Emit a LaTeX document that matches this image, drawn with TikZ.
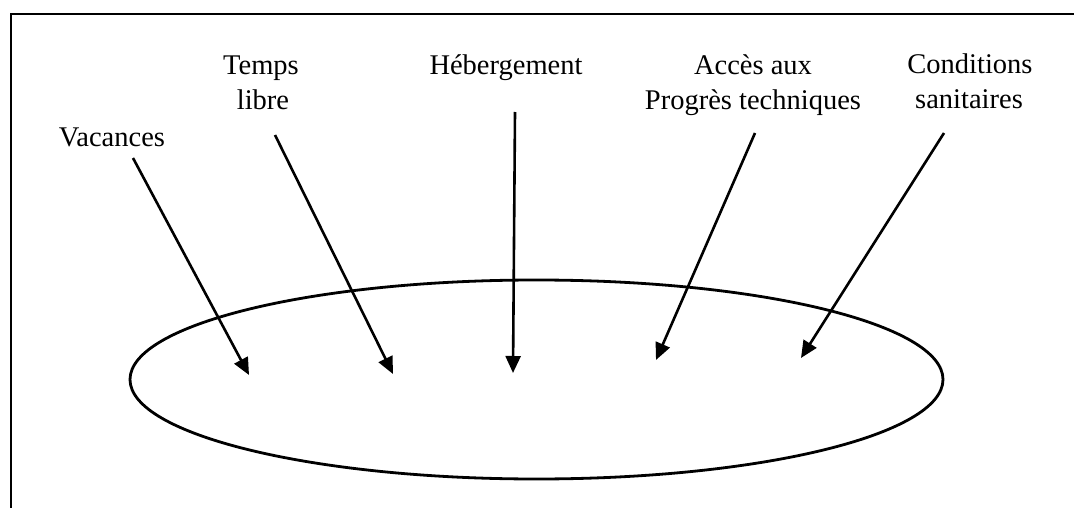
\documentclass[tikz,border=0pt]{standalone}
\usepackage{fontspec}
\setmainfont{Liberation Serif}
\usetikzlibrary{arrows.meta,shapes.geometric}
\begin{document}
\begin{tikzpicture}[x=1pt,y=-1pt,
  lbl/.style={font=\fontsize{28.5}{35}\selectfont, inner sep=0pt, anchor=base},
  arr/.style={line width=2.6pt, -{Triangle[length=17pt,width=15pt]}},
  frame/.style={line width=2.6pt}]
\useasboundingbox (0,0) rectangle (1074,508);
\draw[frame] (11,508) -- (11,14) -- (1074,14);
\node[draw, ellipse, line width=2.8pt, minimum width=813pt, minimum height=199pt, inner sep=0pt] (oval) at (536.5,379.5) {};
% labels
\node[lbl] (vac) at (112,147) {Vacances};
\node[lbl] (tl1) at (261,75) {Temps};
\node[lbl] (tl2) at (263,110) {libre};
\node[lbl] (heb) at (506,75) {Hébergement};
\node[lbl] (acc1) at (753,75) {Accès aux};
\node[lbl] (acc2) at (753,110) {Progrès techniques};
\node[lbl] (cond1) at (970,74) {Conditions};
\node[lbl] (cond2) at (969,109) {sanitaires};
% arrow ends
\coordinate (vS) at (133,158);  \coordinate (vT) at (249,375);
\coordinate (tS) at (275,135);  \coordinate (tT) at (393,374);
\coordinate (hS) at (515,112);  \coordinate (hT) at (513,373);
\coordinate (aS) at (755,133);  \coordinate (aT) at (656,360);
\coordinate (cS) at (944,133);  \coordinate (cT) at (801,358);
\draw[arr] (vS) -- (vT);
\draw[arr] (tS) -- (tT);
\draw[arr] (hS) -- (hT);
\draw[arr] (aS) -- (aT);
\draw[arr] (cS) -- (cT);
\end{tikzpicture}
\end{document}
